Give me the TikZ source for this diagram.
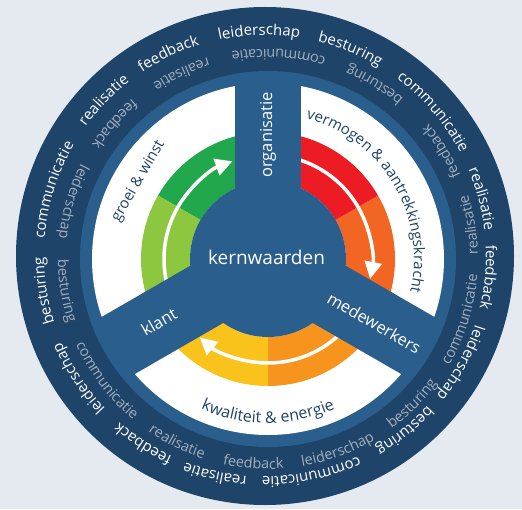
\documentclass[tikz,border=0pt]{standalone}
\usepackage{fontspec}
\setmainfont{Open Sans}
\usetikzlibrary{decorations.text,arrows.meta}
\definecolor{bg}{HTML}{E5EAF1}
\definecolor{navy}{HTML}{1E446A}
\definecolor{midblue}{HTML}{2A5E8C}
\definecolor{dgreen}{HTML}{21A84C}
\definecolor{lgreen}{HTML}{8DC63F}
\definecolor{cred}{HTML}{ED1C24}
\definecolor{corange}{HTML}{F26522}
\definecolor{cyellow}{HTML}{F9C31C}
\definecolor{cyorange}{HTML}{F7941E}
\definecolor{ringgray}{HTML}{A3AEBB}
\newcommand\myouterfont{\fontsize{15}{15}\selectfont\color{white}}
\newcommand\myinnerfont{\fontsize{14.5}{14.5}\selectfont\color{ringgray}}
\newcommand\mylabelfont{\fontsize{15}{15}\selectfont\color{navy}}
\newcommand\mybottomfont{\fontsize{16}{16}\selectfont\color{navy}}
\newcommand\ringsector[3]{\fill[#1] (#2:78) arc[start angle=#2,end angle=#3,radius=78] -- (#3:127) arc[start angle=#3,end angle=#2,radius=127] -- cycle;}
\newcommand\outerword[2]{\path[shift={(-3,3)},decorate,decoration={text along path,text={|\myouterfont|#2},text align=center}] ({#1+30}:221) arc[start angle={#1+30},end angle={#1-30},radius=221];}
\newcommand\innerword[2]{\path[decorate,decoration={text along path,text={|\myinnerfont|#2},text align=center}] ({#1-30}:210) arc[start angle={#1-30},end angle={#1+30},radius=210];}
\begin{document}
\begin{tikzpicture}[x=1pt,y=1pt,
  arrowline/.style={white,line width=3.5pt,-{Triangle[length=17pt,width=17pt]}},
  spoke/.style={fill=midblue},
  spokelabel/.style={text=white,font=\fontsize{16.5}{16.5}\selectfont,inner sep=0pt},
  sectorlabel/.style={text=navy,font=\fontsize{15}{15}\selectfont,inner sep=0pt}]
\useasboundingbox (-268,-250) rectangle (254,259);
\fill[bg] (-268,-250) rectangle (254,259);
\fill[navy] (-3,3) circle[radius=249];
\fill[midblue] (0,0) circle[radius=188];
\fill[white] (0,0) circle[radius=176];
% colour ring
\ringsector{dgreen}{90}{150}
\ringsector{lgreen}{150}{210}
\ringsector{cyellow}{210}{270}
\ringsector{cyorange}{270}{330}
\ringsector{corange}{330}{390}
\ringsector{cred}{30}{90}
% arrows
\draw[arrowline] (205:104) arc[start angle=205,end angle=110,radius=104];
\draw[arrowline] (85:104) arc[start angle=85,end angle=-11,radius=104];
\draw[arrowline] (-35:104) arc[start angle=-35,end angle=-131,radius=104];
% spokes and hub
\fill[spoke,rotate=90] (0,-33) rectangle (182,33);
\fill[spoke,rotate=210] (0,-33) rectangle (182,33);
\fill[spoke,rotate=330] (0,-33) rectangle (182,33);
\fill[spoke] (0,0) circle[radius=78];
% labels
\node[text=white,font=\fontsize{19}{19}\selectfont] (kern) at (-1.5,2) {kernwaarden};
\node[spokelabel,rotate=90] (organisatie) at (90:124) {organisatie};
\node[spokelabel,rotate=30] (klant) at (210:126) {klant};
\node[spokelabel,rotate=-30] (medewerkers) at (-31:124) {medewerkers};
\node[sectorlabel,rotate=60] (groei) at (149:151) {groei \& winst};
\path[decorate,decoration={text along path,text={|\mylabelfont|vermogen {\&} aantrekkingskracht},text align=center}] (80:146) arc[start angle=80,end angle=-18,radius=146];
\path[decorate,decoration={text along path,text={|\mybottomfont|kwaliteit {\&} energie},text align=center}] (225:164) arc[start angle=225,end angle=315,radius=164];
% outer ring words
\outerword{91.5}{leiderschap}
\outerword{67.6}{besturing}
\outerword{40.6}{communicatie}
\outerword{14.8}{realisatie}
\outerword{-5.4}{feedback}
\outerword{-28.6}{leiderschap}
\outerword{-51.3}{besturing}
\outerword{-77.9}{communicatie}
\outerword{-102.9}{realisatie}
\outerword{-123}{feedback}
\outerword{-146.7}{leiderschap}
\outerword{-171}{besturing}
\outerword{162.6}{communicatie}
\outerword{136}{realisatie}
\outerword{115.5}{feedback}
% inner ring words
\innerword{87}{communicatie}
\innerword{115}{realisatie}
\innerword{138.6}{feedback}
\innerword{163.7}{leiderschap}
\innerword{189}{besturing}
\innerword{217}{communicatie}
\innerword{243.6}{realisatie}
\innerword{265.9}{feedback}
\innerword{290}{leiderschap}
\innerword{314.8}{besturing}
\innerword{342.7}{communicatie}
\innerword{9.5}{realisatie}
\innerword{31.8}{feedback}
\innerword{58.6}{besturing}
\end{tikzpicture}
\end{document}
